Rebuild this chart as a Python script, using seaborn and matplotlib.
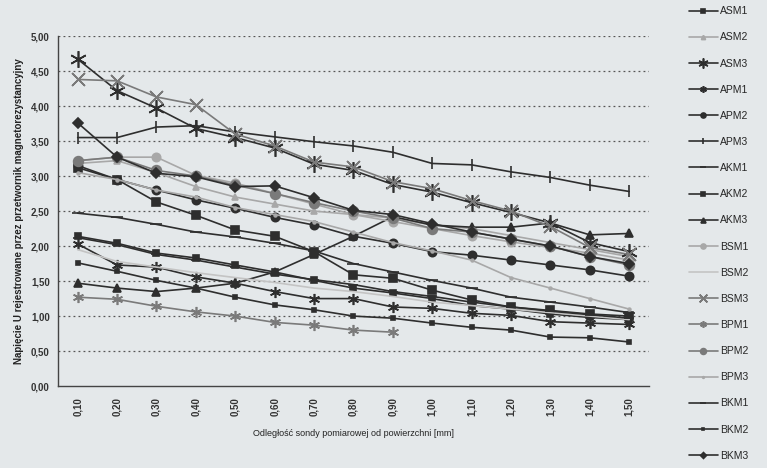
import numpy as np
import pandas as pd
import matplotlib
matplotlib.use("Agg")
import matplotlib.pyplot as plt
import seaborn as sns

x_labels = ["0,10", "0,20", "0,30", "0,40", "0,50", "0,60", "0,70", "0,80",
            "0,90", "1,00", "1,10", "1,20", "1,30", "1,40", "1,50"]

ASM1 = [3.12, 2.95, 2.63, 2.44, 2.23, 2.14, 1.92, 1.59, 1.54, 1.37, 1.23, 1.13, 1.08, 1.03, 1.00]
ASM2 = [3.18, 3.22, 3.05, 2.85, 2.70, 2.60, 2.50, 2.45, 2.40, 2.30, 2.25, 2.15, 2.05, 1.95, 1.85]
ASM3 = [4.67, 4.22, 3.97, 3.68, 3.55, 3.40, 3.17, 3.08, 2.88, 2.77, 2.62, 2.48, 2.33, 2.05, 1.92]
APM1 = [2.03, 1.73, 1.70, 1.56, 1.47, 1.35, 1.25, 1.25, 1.13, 1.11, 1.04, 1.01, 0.92, 0.90, 0.88]
APM2 = [3.15, 2.95, 2.80, 2.66, 2.54, 2.41, 2.30, 2.14, 2.04, 1.92, 1.87, 1.80, 1.73, 1.66, 1.57]
APM3 = [3.55, 3.55, 3.70, 3.72, 3.63, 3.56, 3.49, 3.43, 3.34, 3.18, 3.16, 3.06, 2.98, 2.87, 2.78]
AKM1 = [2.47, 2.41, 2.31, 2.20, 2.13, 2.04, 1.93, 1.75, 1.63, 1.51, 1.40, 1.27, 1.20, 1.13, 1.05]
AKM2 = [2.14, 2.04, 1.90, 1.83, 1.73, 1.63, 1.51, 1.40, 1.33, 1.25, 1.15, 1.10, 1.03, 0.98, 0.95]
AKM3 = [1.47, 1.40, 1.35, 1.40, 1.47, 1.63, 1.88, 2.14, 2.42, 2.30, 2.27, 2.27, 2.33, 2.16, 2.18]
BSM1 = [3.22, 3.27, 3.27, 3.01, 2.90, 2.75, 2.60, 2.45, 2.35, 2.25, 2.15, 2.06, 1.98, 1.90, 1.80]
BSM2 = [1.95, 1.78, 1.70, 1.62, 1.55, 1.48, 1.40, 1.35, 1.28, 1.20, 1.15, 1.10, 1.05, 1.00, 0.95]
BSM3 = [4.38, 4.36, 4.13, 4.02, 3.60, 3.43, 3.20, 3.13, 2.92, 2.82, 2.65, 2.50, 2.28, 1.98, 1.88]
BPM1 = [1.27, 1.24, 1.14, 1.06, 1.00, 0.91, 0.87, 0.80, 0.77, None, None, None, None, None, None]
BPM2 = [3.22, 3.27, 3.08, 3.00, 2.87, 2.75, 2.62, 2.50, 2.40, 2.25, 2.20, 2.10, 2.00, 1.85, 1.73]
BPM3 = [3.05, 2.95, 2.80, 2.70, 2.55, 2.45, 2.35, 2.20, 2.05, 1.93, 1.80, 1.55, 1.40, 1.25, 1.10]
BKM1 = [2.12, 2.02, 1.88, 1.80, 1.70, 1.60, 1.52, 1.45, 1.35, 1.28, 1.20, 1.13, 1.07, 1.02, 0.97]
BKM2 = [1.76, 1.64, 1.51, 1.40, 1.27, 1.16, 1.09, 1.00, 0.97, 0.90, 0.84, 0.80, 0.70, 0.69, 0.63]
BKM3 = [3.76, 3.27, 3.04, 2.99, 2.85, 2.86, 2.69, 2.51, 2.45, 2.32, 2.20, 2.10, 2.00, 1.85, 1.75]

series_names = ["ASM1", "ASM2", "ASM3", "APM1", "APM2", "APM3", "AKM1", "AKM2", "AKM3",
                "BSM1", "BSM2", "BSM3", "BPM1", "BPM2", "BPM3", "BKM1", "BKM2", "BKM3"]
series_values = [ASM1, ASM2, ASM3, APM1, APM2, APM3, AKM1, AKM2, AKM3,
                 BSM1, BSM2, BSM3, BPM1, BPM2, BPM3, BKM1, BKM2, BKM3]

rows = []
for name, vals in zip(series_names, series_values):
    for i, v in enumerate(vals):
        rows.append({"series": name, "x": i, "value": np.nan if v is None else v})
df = pd.DataFrame(rows)

dark = "#2e2e2e"
mid = "#7a7a7a"
light = "#a8a8a8"
vlight = "#c4c4c4"
styles = {
    "ASM1": dict(color=dark, marker="s", ms=6),
    "ASM2": dict(color=light, marker="^", ms=5),
    "ASM3": dict(color=dark, marker=(6, 2, 0), ms=12),
    "APM1": dict(color=dark, marker=(6, 2, 0), ms=8),
    "APM2": dict(color=dark, marker="o", ms=6),
    "APM3": dict(color=dark, marker="|", ms=8),
    "AKM1": dict(color=dark, marker="_", ms=8),
    "AKM2": dict(color=dark, marker="s", ms=4),
    "AKM3": dict(color=dark, marker="^", ms=6),
    "BSM1": dict(color=light, marker="o", ms=6),
    "BSM2": dict(color=vlight, marker=None, ms=0),
    "BSM3": dict(color=mid, marker=(4, 2, 45), ms=13),
    "BPM1": dict(color=mid, marker=(6, 2, 0), ms=8),
    "BPM2": dict(color=mid, marker="o", ms=7),
    "BPM3": dict(color=light, marker=".", ms=4),
    "BKM1": dict(color=dark, marker="_", ms=7),
    "BKM2": dict(color=dark, marker="s", ms=3.5),
    "BKM3": dict(color=dark, marker="D", ms=5),
}

bg = "#e4e8ea"
sns.set_theme(style="white")
plt.rcParams["font.family"] = ["Liberation Sans", "DejaVu Sans"]

fig = plt.figure(figsize=(7.67, 4.68), dpi=100, facecolor=bg)
ax = fig.add_axes([0.0756, 0.175, 0.7704, 0.748])
ax.set_facecolor(bg)

for name in series_names:
    st = styles[name]
    sub = df[df["series"] == name]
    sns.lineplot(data=sub, x="x", y="value", ax=ax, color=st["color"],
                 marker=st["marker"], markersize=st["ms"], linewidth=1.2,
                 markeredgecolor=st["color"], markeredgewidth=1.2,
                 label=name, legend=False, errorbar=None, sort=False)

ax.set_xlim(-0.5, 14.5)
ax.set_ylim(0, 5)
ax.set_yticks(np.arange(0, 5.01, 0.5))
ax.set_yticklabels([f"{v:.2f}".replace(".", ",") for v in np.arange(0, 5.01, 0.5)],
                   fontsize=7, fontweight="bold", color="#333333")
ax.set_xticks(range(15))
ax.set_xticklabels(x_labels, rotation=90, fontsize=7, fontweight="bold", color="#333333")
ax.set_xticks(np.arange(-0.5, 14.6, 1), minor=True)
ax.tick_params(axis="x", which="major", length=0, pad=8)
ax.tick_params(axis="x", which="minor", length=3, color="#333333", direction="out")
ax.tick_params(axis="y", which="major", length=3, color="#333333", direction="out", pad=3)

for yv in np.arange(0.5, 5.01, 0.5):
    ax.axhline(yv, color="#555555", linestyle=(0, (1.5, 2.5)), linewidth=0.9, zorder=0)

for s in ["top", "right"]:
    ax.spines[s].set_visible(False)
for s in ["left", "bottom"]:
    ax.spines[s].set_color("#444444")
    ax.spines[s].set_linewidth(1.0)

ax.set_xlabel("Odległość sondy pomiarowej od powierzchni [mm]", fontsize=6.5, color="#222222", labelpad=9)
ax.set_ylabel("Napięcie U rejestrowane przez przetwornik magnetorezystancyjny", fontsize=7,
              fontweight="bold", color="#222222", labelpad=5)

handles, labels = ax.get_legend_handles_labels()
fig.legend(handles, labels, loc="upper left", bbox_to_anchor=(0.89, 1.0),
           frameon=False, fontsize=7.5, labelspacing=1.55, handlelength=2.8,
           handletextpad=0.2, markerscale=0.6, borderaxespad=0.2)

fig.savefig("out.png", dpi=100, facecolor=bg)
